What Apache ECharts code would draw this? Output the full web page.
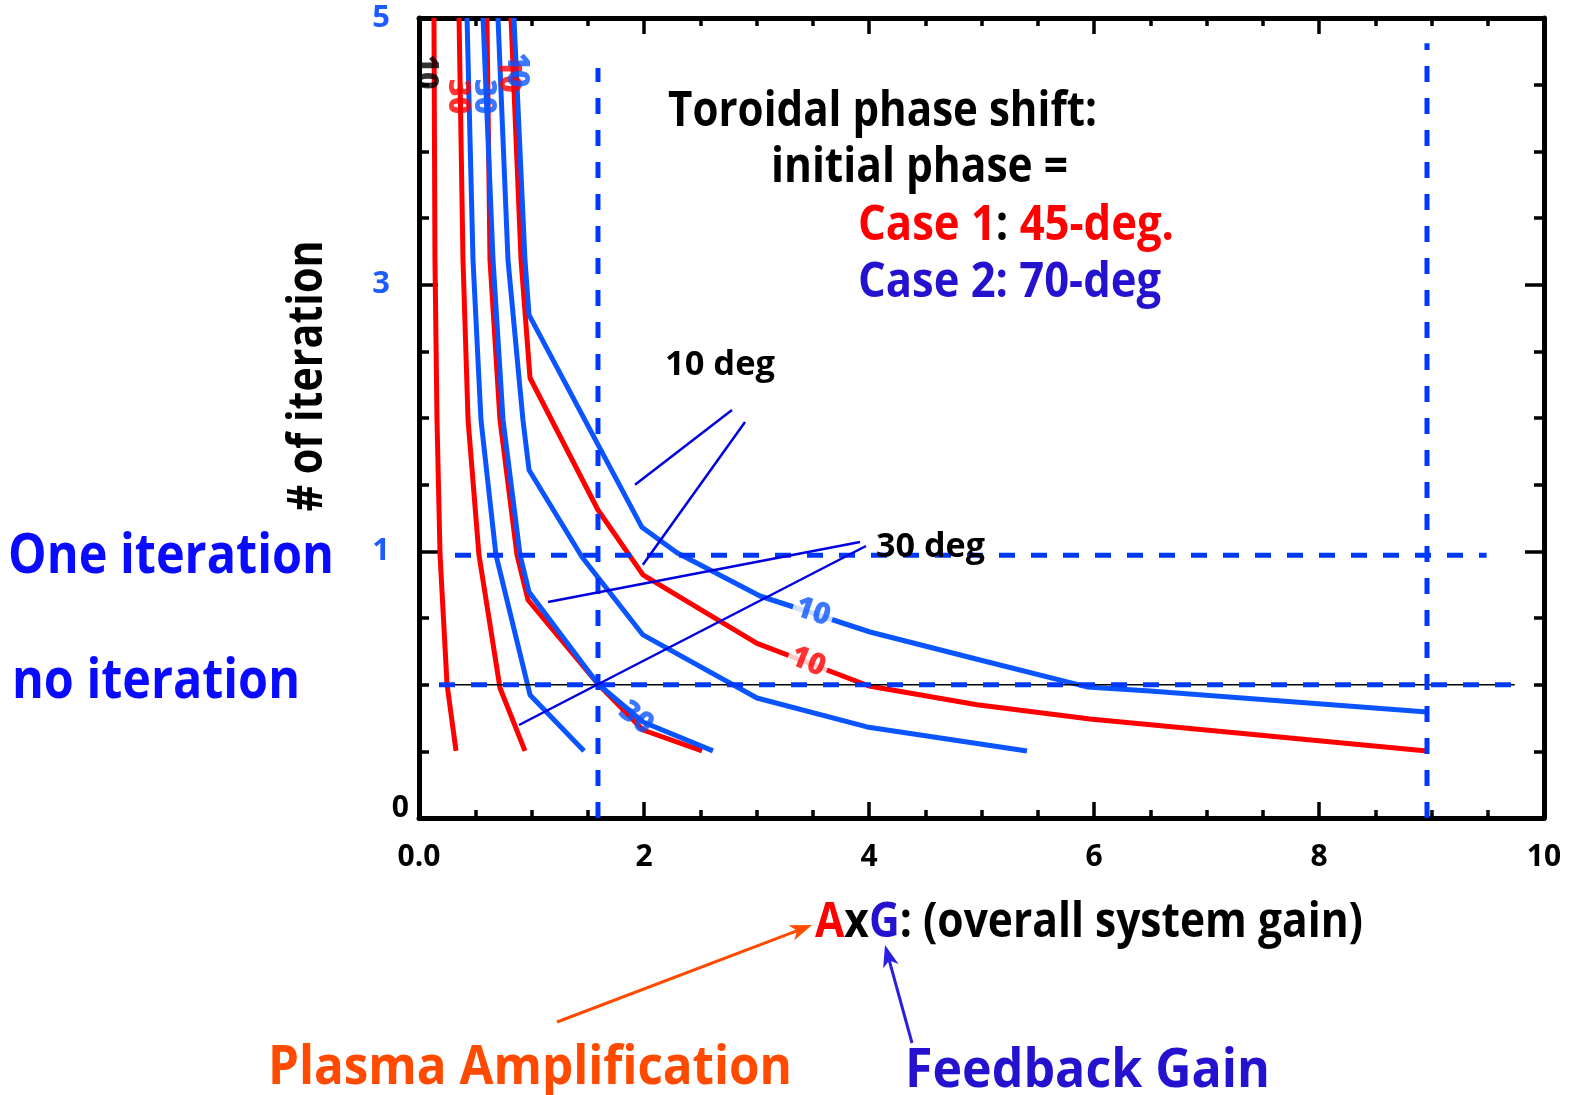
<!DOCTYPE html>
<html><head><meta charset="utf-8">
<script src="https://cdn.jsdelivr.net/npm/echarts@6/dist/echarts.min.js"></script>
<style>html,body{margin:0;padding:0;background:#fff}#c{width:1569px;height:1095px}</style>
</head><body><div id="c"></div>
<script>
// ---------- data ----------
const xTickLabels = ['0.0', '2', '4', '6', '8', '10'];
const yTickLabels = ['0', '1', '3', '5'];

// Case 1 (45-deg initial phase) curves, [AxG, iteration-axis position]
const case1CurveA = [[0.133, 6], [0.142, 4.185], [0.16, 2.985], [0.187, 1.973], [0.249, 1.005], [0.329, 0.503]];
const case1CurveB = [[0.356, 6], [0.391, 4.185], [0.436, 2.985], [0.533, 1.973], [0.72, 0.975], [0.942, 0.503]];
const case1CurveC = [[0.604, 6], [0.631, 4.185], [0.72, 2.985], [0.871, 1.973], [0.969, 1.635], [1.591, 1.005], [1.991, 0.66], [2.516, 0.503]];
const case1CurveD = [[0.818, 6], [0.907, 4.185], [0.987, 3.30], [1.591, 2.31], [1.991, 1.823], [3.004, 1.31], [4.0, 0.99], [4.96, 0.85], [5.964, 0.743], [8.96, 0.503]];

// Case 2 (70-deg initial phase) curves
const case2CurveA = [[0.427, 6], [0.48, 4.185], [0.551, 2.985], [0.684, 1.973], [0.987, 0.923], [1.467, 0.503]];
const case2CurveB = [[0.569, 6], [0.658, 4.185], [0.747, 2.985], [0.898, 1.973], [0.978, 1.695], [1.591, 1.005], [1.991, 0.72], [2.613, 0.503]];
const case2CurveC = [[0.702, 6], [0.791, 4.185], [0.924, 2.985], [0.978, 2.61], [1.449, 1.958], [1.991, 1.373], [3.004, 0.9], [3.982, 0.683], [5.404, 0.503]];
const case2CurveD = [[0.844, 6], [0.942, 4.185], [0.978, 3.773], [1.982, 2.18], [2.293, 1.99], [3.031, 1.665], [4.009, 1.395], [4.987, 1.185], [5.938, 0.983], [6.498, 0.953], [8.96, 0.795]];

// reference levels
const oneIterationLevel = 1.97;
const noIterationLevel = 1.0;
const gainMarkers = [1.591, 8.96];

// ---------- styles ----------
const RED = '#ff0000';
const BLUE = '#0a55ff';
const DASH_BLUE = '#0038ff';
const PTR_BLUE = '#0000e0';
const VIOLET = '#2412cf';
const ORANGE = '#ff4a00';
const FONT = '"Open Sans"';

const chart = echarts.init(document.getElementById('c'));

function curve(name, data, color) {
  return { name, type: 'line', data, showSymbol: false, symbol: 'none', silent: true, z: 2,
    lineStyle: { color, width: 5 }, itemStyle: { color } };
}
function refLine(data, color, width, dashed, z) {
  return { type: 'line', data, showSymbol: false, symbol: 'none', silent: true, z,
    lineStyle: { color, width, type: dashed ? [16, 16] : 'solid' } };
}

// pointer lines for "10 deg" / "30 deg"
const pointerSegs = [
  [[1.92, 2.5], [2.782, 3.06]],
  [[1.99, 1.9], [2.898, 2.97]],
  [[1.147, 1.62], [3.92, 2.07]],
  [[0.889, 0.6975], [3.973, 2.04]]
];

// inline curve labels
const curveLabels = [
  { value: [0.347, 5.41], name: '30', color: RED, rotate: -90, bg: null },
  { value: [0.578, 5.41], name: '30', color: BLUE, rotate: -90, bg: null },
  { value: [0.80, 5.57], name: '10', color: RED, rotate: -90, bg: null },
  { value: [0.87, 5.61], name: '10', color: BLUE, rotate: -90, bg: null },
  { value: [0.06, 5.595], name: '10', color: '#000', rotate: -90, bg: null },
  { value: [3.502, 1.545], name: '10', color: BLUE, rotate: -18, bg: '#fff' },
  { value: [3.458, 1.17], name: '10', color: RED, rotate: -22, bg: '#fff' },
  { value: [1.929, 0.75], name: '30', color: BLUE, rotate: -38, bg: null }
];

const series = [
  curve('Case 1 a', case1CurveA, RED),
  curve('Case 1 b', case1CurveB, RED),
  curve('Case 1 c', case1CurveC, RED),
  curve('Case 1 d', case1CurveD, RED),
  curve('Case 2 a', case2CurveA, BLUE),
  curve('Case 2 b', case2CurveB, BLUE),
  curve('Case 2 c', case2CurveC, BLUE),
  curve('Case 2 d', case2CurveD, BLUE),
  refLine([[0.178, noIterationLevel], [9.74, noIterationLevel]], '#000', 1.5, false, 3),
  refLine([[0.178, noIterationLevel], [9.74, noIterationLevel]], DASH_BLUE, 5, true, 4),
  refLine([[0.32, oneIterationLevel], [9.49, oneIterationLevel]], DASH_BLUE, 5, true, 4),
  refLine([[gainMarkers[0], 0], [gainMarkers[0], 5.625]], DASH_BLUE, 5, true, 4),
  refLine([[gainMarkers[1], 0], [gainMarkers[1], 5.81]], DASH_BLUE, 5, true, 4)
];
pointerSegs.forEach(s => series.push(refLine(s, PTR_BLUE, 2.5, false, 5)));
series.push({
  type: 'scatter', symbolSize: 0, silent: true, z: 6,
  label: { show: true, position: 'inside', formatter: '{b}', fontFamily: FONT, fontWeight: 800, fontSize: 30 },
  data: curveLabels.map(l => ({
    value: l.value, name: l.name,
    label: { show: true, position: 'inside', formatter: '{b}', rotate: l.rotate, color: l.color,
      fontFamily: FONT, fontWeight: 800, fontSize: 30,
      backgroundColor: l.bg || 'transparent', padding: l.bg ? [0, 3] : 0 }
  }))
});

// ---------- text annotations ----------
const mctx = document.createElement('canvas').getContext('2d');
function measure(t, size) { mctx.font = `bold ${size}px ${FONT}`; return mctx.measureText(t).width; }
function textEls(segs, left, cy, size, width) {
  const ws = segs.map(s => measure(s[0], size));
  const total = ws.reduce((a, b) => a + b, 0);
  const sx = width / total;
  let x = left; const els = [];
  const y = cy + size * 0.09;
  segs.forEach((s, i) => {
    els.push({ type: 'text', x, y, scaleX: sx, z: 100, silent: true,
      style: { text: s[0], fill: s[1], font: `bold ${size}px ${FONT}`,
        align: 'left', verticalAlign: 'middle', textAlign: 'left', textVerticalAlign: 'middle' } });
    x += ws[i] * sx;
  });
  return els;
}
function arrow(x1, y1, x2, y2, color) {
  const dx = x2 - x1, dy = y2 - y1, len = Math.hypot(dx, dy);
  const ux = dx / len, uy = dy / len, nx = -uy, ny = ux;
  const L = 22, W = 16;
  const bx = x2 - ux * L, by = y2 - uy * L;
  return [
    { type: 'line', z: 100, silent: true, shape: { x1, y1, x2: x2 - ux * 10, y2: y2 - uy * 10 }, style: { stroke: color, lineWidth: 3 } },
    { type: 'polygon', z: 100, silent: true, shape: { points: [[x2, y2], [bx + nx * W / 2, by + ny * W / 2], [bx + ux * 6, by + uy * 6], [bx - nx * W / 2, by - ny * W / 2]] }, style: { fill: color } }
  ];
}

const graphics = [].concat(
  textEls([['Toroidal phase shift:', '#000']], 668, 108, 48, 429),
  textEls([['initial phase =', '#000']], 771, 164, 48, 297),
  textEls([['Case 1', RED], [':', '#000'], [' 45-deg.', RED]], 858, 222, 48, 316),
  textEls([['Case 2: 70-deg', VIOLET]], 858, 279, 48, 303),
  textEls([['10 deg', '#000']], 665, 362, 34, 110),
  textEls([['30 deg', '#000']], 876, 544, 34, 109),
  textEls([['One iteration', '#0a0aff']], 8, 552, 56, 326),
  textEls([['no iteration', '#0a0aff']], 12, 677, 56, 288),
  textEls([['A', RED], ['x', '#000'], ['G', VIOLET], [': (overall system gain)', '#000']], 815, 919, 48, 548),
  textEls([['Plasma Amplification', ORANGE]], 268, 1064, 54, 524),
  textEls([['Feedback Gain', VIOLET]], 905, 1067, 54, 365),
  arrow(557, 1022, 812, 925, ORANGE),
  arrow(912, 1043, 885, 945, '#2a1ee0')
);
(function () {
  const size = 48, t = '# of iteration';
  const sx = 271 / measure(t, size);
  graphics.push({ type: 'text', x: 308, y: 376, rotation: Math.PI / 2, scaleX: sx, z: 100, silent: true,
    style: { text: t, fill: '#000', font: `bold ${size}px ${FONT}`, align: 'center', verticalAlign: 'middle',
      textAlign: 'center', textVerticalAlign: 'middle' } });
})();

// ---------- axes ----------
const axisLine = { show: true, onZero: false, lineStyle: { color: '#000', width: 5 } };
function xAx(pos, labels) {
  return { type: 'value', position: pos, min: 0, max: 10, interval: 2,
    axisLine, splitLine: { show: false },
    axisTick: { show: true, inside: true, length: 16, lineStyle: { color: '#000', width: 3.5 } },
    minorTick: { show: true, splitNumber: 4, length: 8, lineStyle: { color: '#000', width: 3.5 } },
    axisLabel: { show: labels, margin: 24, color: '#000', fontFamily: FONT, fontWeight: 'bold', fontSize: 30,
      formatter: v => xTickLabels[Math.round(v / 2)] } };
}
function yAx(pos, labels) {
  return { type: 'value', position: pos, min: 0, max: 6, interval: 2,
    axisLine, splitLine: { show: false },
    axisTick: { show: true, inside: true, length: 19, lineStyle: { color: '#000', width: 3.5 } },
    minorTick: { show: true, splitNumber: 4, length: 10, lineStyle: { color: '#000', width: 3.5 } },
    axisLabel: { show: labels, margin: 10,
      formatter: v => { const i = Math.round(v / 2); return i === 0 ? `{k|${yTickLabels[i]}}` : `{b|${yTickLabels[i]}}`; },
      rich: {
        k: { color: '#000', fontFamily: FONT, fontWeight: 'bold', fontSize: 30, padding: [0, 0, 20, 0] },
        b: { color: '#1d5cff', fontFamily: FONT, fontWeight: 'bold', fontSize: 31, padding: [0, 19, 0, 0] }
      } } };
}

chart.setOption({
  animation: false,
  backgroundColor: '#fff',
  grid: { left: 419, top: 18, width: 1125, height: 800, containLabel: false },
  xAxis: [xAx('bottom', true), xAx('top', false)],
  yAxis: [yAx('left', true), yAx('right', false)],
  series,
  graphic: { elements: graphics }
});
</script></body></html>
